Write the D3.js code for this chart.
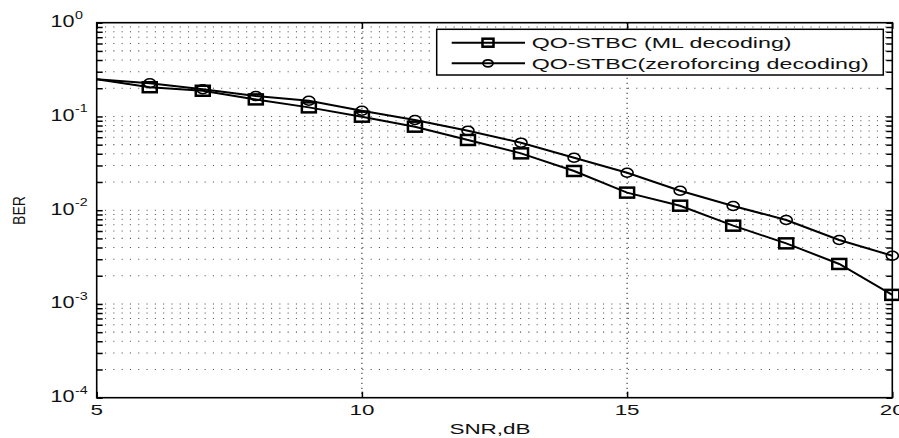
<!DOCTYPE html>
<html><head><meta charset="utf-8">
<script src="https://cdn.jsdelivr.net/npm/d3@7"></script>
<style>
body{margin:0;background:#fff;}
svg{display:block;}
text{font-family:"Liberation Sans",Arial,sans-serif;fill:#111;}
</style></head>
<body>
<svg id="c" width="899" height="438"></svg>
<script>
const snr = [5,6,7,8,9,10,11,12,13,14,15,16,17,18,19,20];
const mlBER = [0.249,0.205,0.188,0.152,0.125,0.0994,0.0778,0.0561,0.0404,0.0262,0.0154,0.01117,0.00684,0.00443,0.00267,0.00125];
const zfBER = [0.249,0.226,0.195,0.165,0.147,0.115,0.0917,0.0705,0.0525,0.0363,0.0251,0.01614,0.0111,0.00786,0.00481,0.00327];
const xTicks = [5,10,15,20];
const yExps = [0,-1,-2,-3,-4];
const legendLabels = ["QO-STBC (ML decoding)","QO-STBC(zeroforcing decoding)"];
const xLabel = "SNR,dB", yLabel = "BER";

const L=96.7, T=22.7, R=892.3, B=397.7;
const SX=1.5;
const svg=d3.select("#c");
const x=d3.scaleLinear().domain([5,20]).range([L,R]);
const y=d3.scaleLog().domain([1e-4,1]).range([B,T]);

// grid
const g=svg.append("g");
const minor=[];
for(let e=-4;e<0;e++){for(let k=2;k<=9;k++){minor.push(k*Math.pow(10,e));}}
const major=yExps.map(e=>Math.pow(10,e));
g.selectAll("line.hg").data(minor.concat(major.slice(1,4))).enter().append("line")
 .attr("x1",L).attr("x2",R).attr("y1",d=>y(d)).attr("y2",d=>y(d))
 .attr("stroke","#555").attr("stroke-width",1.1).attr("stroke-dasharray","1.1,7.2");
g.selectAll("line.vg").data(xTicks.slice(1,3)).enter().append("line")
 .attr("x1",d=>x(d)).attr("x2",d=>x(d)).attr("y1",T).attr("y2",B)
 .attr("stroke","#444").attr("stroke-width",1.2).attr("stroke-dasharray","1.2,3.8");

// axes ticks (inward)
const axB=d3.axisTop(x).tickValues(xTicks).tickSize(6).tickFormat("");
const axT=d3.axisBottom(x).tickValues(xTicks).tickSize(6).tickFormat("");
const axL=d3.axisRight(y).tickValues(minor.concat(major)).tickSize(6).tickFormat("");
const axR=d3.axisLeft(y).tickValues(minor.concat(major)).tickSize(6).tickFormat("");
[[axB,`translate(0,${B})`],[axT,`translate(0,${T})`],[axL,`translate(${L},0)`],[axR,`translate(${R},0)`]].forEach(([a,t])=>{
  const gg=svg.append("g").attr("transform",t).call(a);
  gg.select(".domain").remove();
  gg.selectAll("line").attr("stroke","#000").attr("stroke-width",1.5);
});
svg.append("rect").attr("x",L).attr("y",T).attr("width",R-L).attr("height",B-T)
 .attr("fill","none").attr("stroke","#000").attr("stroke-width",1.6);

// data
const line=d3.line().x((d,i)=>x(snr[i])).y(d=>y(d));
const series=[{v:mlBER,m:"sq"},{v:zfBER,m:"ci"}];
series.forEach(s=>{
  svg.append("path").datum(s.v).attr("d",line).attr("fill","none").attr("stroke","#000").attr("stroke-width",2);
  const pts=s.v.map((v,i)=>({x:snr[i],v})).filter(p=>p.x>5);
  if(s.m==="sq"){
    svg.selectAll(null).data(pts).enter().append("rect")
     .attr("x",p=>x(p.x)-7).attr("y",p=>y(p.v)-5).attr("width",14).attr("height",10)
     .attr("fill","none").attr("stroke","#000").attr("stroke-width",2.5);
  } else {
    svg.selectAll(null).data(pts).enter().append("ellipse")
     .attr("cx",p=>x(p.x)).attr("cy",p=>y(p.v)).attr("rx",6).attr("ry",4.5)
     .attr("fill","none").attr("stroke","#000").attr("stroke-width",1.6);
  }
});

// text helper
function txt(xp,yp,s,size,anchor,sx){
  return svg.append("text").attr("transform",`translate(${xp},${yp}) scale(${sx||SX},1)`)
   .attr("font-size",size).attr("text-anchor",anchor||"start").text(s);
}
// x tick labels
xTicks.forEach(v=>txt(x(v),414.5,String(v),14,"middle",1.6));
// y tick labels
yExps.forEach(e=>{
  const yy=y(Math.pow(10,e));
  svg.append("text").attr("transform",`translate(74.5,${yy+4.5}) scale(1.35,1)`)
    .attr("font-size",16).attr("text-anchor","end").text("10");
  svg.append("text").attr("transform",`translate(75,${yy-4}) scale(1.3,1)`)
    .attr("font-size",11).attr("text-anchor","start").text(String(e));
});
// axis labels
txt(490,434,xLabel,15,"middle",1.5);
svg.append("text").attr("transform","translate(24.5,210.5) rotate(-90) scale(1,1.2)")
 .attr("font-size",14).attr("text-anchor","middle").text(yLabel);

// legend
const lg=svg.append("g");
lg.append("rect").attr("x",436.7).attr("y",29.3).attr("width",883.3-436.7).attr("height",75-29.3)
 .attr("fill","#fff").attr("stroke","#000").attr("stroke-width",1.5);
const rows=[42.7,63.3];
legendLabels.forEach((lab,i)=>{
  const yy=rows[i];
  lg.append("line").attr("x1",451.7).attr("x2",525).attr("y1",yy).attr("y2",yy).attr("stroke","#000").attr("stroke-width",2);
  if(i===0) lg.append("rect").attr("x",488-5.5).attr("y",yy-4).attr("width",11).attr("height",8).attr("fill","none").attr("stroke","#000").attr("stroke-width",2.5);
  else lg.append("ellipse").attr("cx",488).attr("cy",yy).attr("rx",5).attr("ry",3.5).attr("fill","none").attr("stroke","#000").attr("stroke-width",1.8);
  txt(531.7,yy+5.5,lab,15,"start",1.55);
});
</script>
</body></html>
